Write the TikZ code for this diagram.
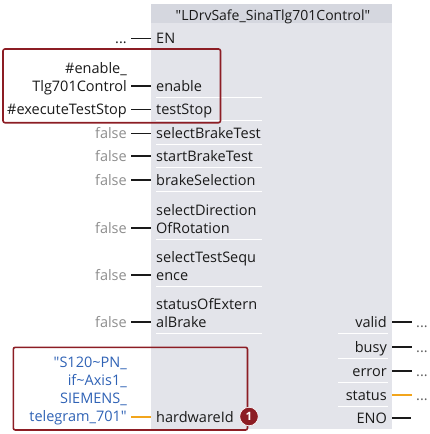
\documentclass[tikz,border=0pt]{standalone}
\usepackage{fontspec}
\defaultfontfeatures[\rmfamily]{}
\setmainfont{Open Sans}
\usetikzlibrary{positioning}
\definecolor{cblock}{HTML}{E3E4EA}
\definecolor{chead}{HTML}{D5D7DF}
\definecolor{cmark}{HTML}{8C1D24}
\definecolor{cgrey}{HTML}{8E8E8E}
\definecolor{cblue}{HTML}{2F62B5}
\definecolor{corange}{HTML}{F2A51C}
\definecolor{cink}{HTML}{1A1A1A}
\newcommand\twol[2]{\begin{tabular}[b]{@{}l@{}}#1\\#2\end{tabular}}
\newcommand\dq{\char"22\relax}

\begin{document}
\begin{tikzpicture}[x=1pt, y=-1pt,
    every node/.style={font=\fontsize{14.5}{18}\selectfont, text=cink, inner sep=0pt},
    pin/.style={anchor=base west, inner xsep=5pt},
    outpin/.style={anchor=base east, inner xsep=5pt},
    val/.style={anchor=base east, inner xsep=4pt},
    outval/.style={anchor=base west, inner xsep=4pt},
    wire/.style={line width=1.8pt, cink},
    sepline/.style={white, line width=.9pt},
    hilite/.style={draw=cmark, line width=1.6pt, rounded corners=2pt}]
  \useasboundingbox (0,0) rectangle (429,434);
  % block body and title
  \node[fill=cblock, anchor=north west, minimum width=241pt, minimum height=425pt] (blk) at (151,4) {};
  \fill[chead] (blk.north west) rectangle ([yshift=-19pt]blk.north east);
  \node[anchor=base, font=\fontsize{14}{18}\selectfont] (title) at (273,20.5) {\dq LDrvSafe\_SinaTlg701Control\dq};
  % inputs
  \node[pin] (pEN) at (151,43.5) {EN};
  \node[val] (vEN) at (131,43.5) {...};
  \draw[wire] ([yshift=5pt]vEN.base east) -- ([yshift=5pt]pEN.base west);
  \node[pin] (pEn) at (151,91) {enable};
  \node[val] (vEn) at (131,91) {\begin{tabular}[b]{@{}r@{}}\#enable\_\\Tlg701Control\end{tabular}};
  \draw[wire] ([yshift=5pt]vEn.base east) -- ([yshift=5pt]pEn.base west);
  \node[pin] (pTs) at (151,114.5) {testStop};
  \node[val] (vTs) at (131,114.5) {\#executeTestStop};
  \draw[wire] ([yshift=5pt]vTs.base east) -- ([yshift=5pt]pTs.base west);
  \foreach \n in {pEn,pTs}
    \draw[sepline] ([yshift=-6pt]\n.base west) ++(5,0) -- ++(106,0);
  \foreach \i/\y/\t in {1/138.5/selectBrakeTest, 2/161/startBrakeTest, 3/185/brakeSelection,
      4/233/{\twol{selectDirection}{OfRotation}}, 5/280/{\twol{selectTestSequ}{ence}},
      6/327/{\twol{statusOfExtern}{alBrake}}}{
    \node[pin] (p\i) at (151,\y) {\t};
    \node[val, text=cgrey] (v\i) at (131,\y) {false};
    \draw[wire] ([yshift=5pt]v\i.base east) -- ([yshift=5pt]p\i.base west);
    \draw[sepline] ([yshift=-6pt]p\i.base west) ++(5,0) -- ++(106,0);
  }
  \node[pin] (pHw) at (151,422) {hardwareId};
  \node[val, text=cblue] (vHw) at (131,421) {\begin{tabular}[b]{@{}r@{}}\dq S120\textasciitilde PN\_\\if\textasciitilde Axis1\_\\SIEMENS\_\\telegram\_701\dq\end{tabular}};
  \draw[wire, corange] ([yshift=5pt]pHw.base west -| vHw.east) -- ([yshift=5pt]pHw.base west);
  % outputs
  \foreach \i/\y/\t/\c in {1/327/valid/cink, 2/352/busy/cink, 3/376/error/cink, 4/400/status/corange}{
    \node[outpin] (o\i) at (392,\y) {\t};
    \node[outval, text=cink!70] (w\i) at (412,\y) {...};
    \draw[wire, \c] ([yshift=5pt]o\i.base east) -- ([yshift=5pt]w\i.base west);
    \draw[sepline] ([yshift=-6pt]o\i.base east) ++(-4,0) -- ++(-50,0);
  }
  \node[outpin] (oEno) at (392,423) {ENO};
  \coordinate (eEno) at (411,418);
  \draw[wire] ([yshift=5pt]oEno.base east) -- (eEno);
  % highlights
  \draw[hilite] (3,49) rectangle (220.5,122.7);
  \draw[hilite] (13.3,347.3) rectangle (247.5,430);
  \node[circle, fill=cmark, draw=white, line width=.6pt, minimum size=18.5pt, text=white,
    font=\fontsize{11.5}{13}\bfseries] (badge) at (249,416.5) {1};
\end{tikzpicture}
\end{document}
